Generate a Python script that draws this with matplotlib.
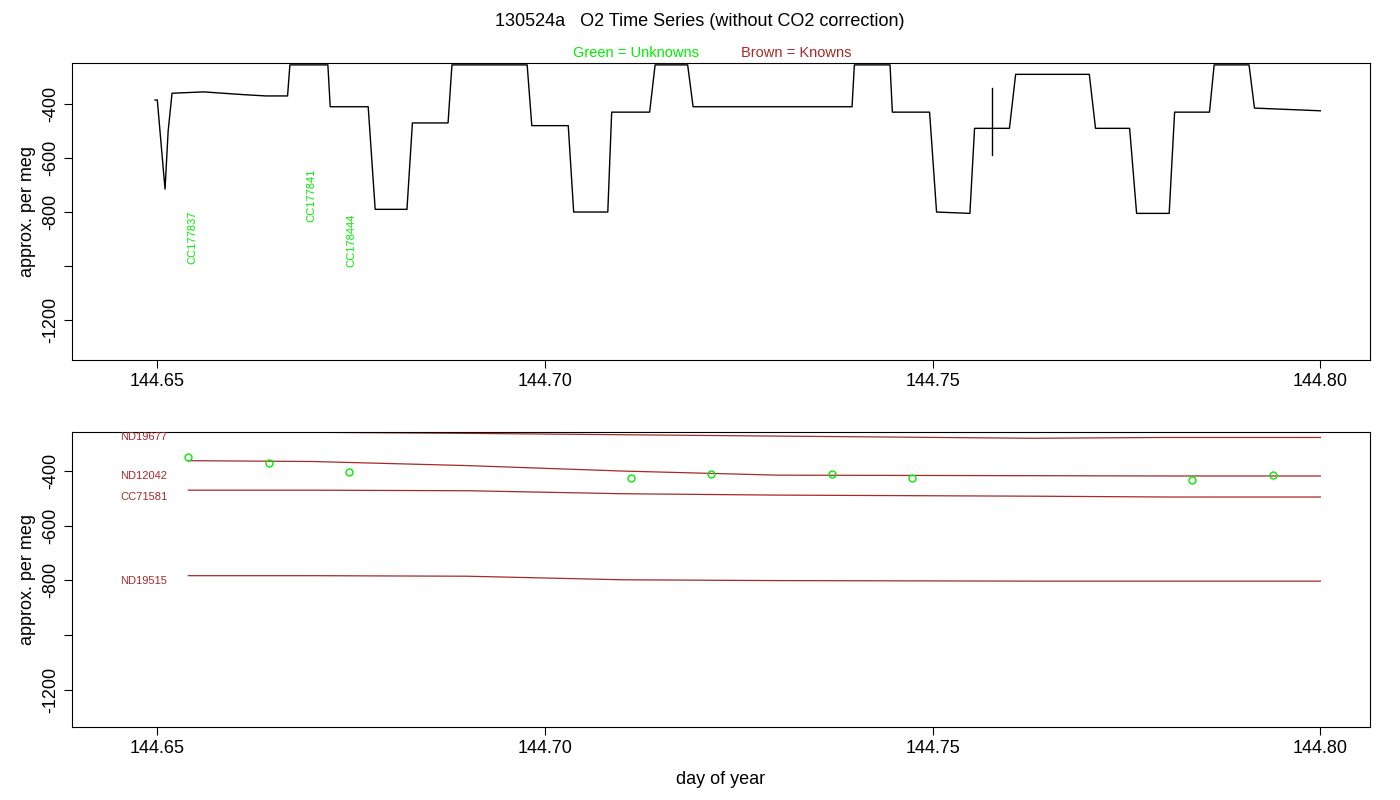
import matplotlib
matplotlib.use("Agg")
import matplotlib.pyplot as plt

plt.rcParams["font.family"] = "Liberation Sans"

# ---- data ----
# top trace: breakpoints (day of year, approx per meg)
trace_t = [144.6497, 144.6500, 144.6508, 144.6510, 144.6514, 144.6519, 144.6560, 144.6610, 144.6640, 144.6668,
           144.6671, 144.6720, 144.6723, 144.6772, 144.6781, 144.6822, 144.6829, 144.6875, 144.6880, 144.6977,
           144.6983, 144.7030, 144.7037, 144.7081, 144.7086, 144.7135, 144.7142, 144.7184, 144.7191, 144.7396,
           144.7399, 144.7445, 144.7448, 144.7496, 144.7505, 144.7548, 144.7554, 144.7599, 144.7607, 144.7702,
           144.7710, 144.7754, 144.7763, 144.7805, 144.7812, 144.7857, 144.7863, 144.7908, 144.7915, 144.8000]
trace_v = [-385, -385, -650, -715, -500, -360, -355, -365, -370, -370,
           -255, -255, -410, -410, -790, -790, -470, -470, -255, -255,
           -480, -480, -800, -800, -430, -430, -255, -255, -410, -410,
           -255, -255, -430, -430, -800, -805, -490, -490, -290, -290,
           -490, -490, -805, -805, -430, -430, -255, -255, -415, -425]
spike_t = 144.7577
spike_v = [-340, -590]

unk_names = ["CC177837", "CC177841", "CC178444"]
unk_t = [144.6545, 144.6699, 144.6750]
unk_top = [-795, -640, -805]

# bottom panel: knowns drift lines
known_names = ["ND19677", "ND12042", "CC71581", "ND19515"]
known_t = [144.654, 144.670, 144.690, 144.710, 144.730, 144.763, 144.780, 144.800]
known_v = [[-257, -258, -262, -267, -272, -280, -277, -277],
           [-362, -365, -380, -400, -415, -417, -418, -418],
           [-470, -470, -472, -483, -488, -492, -495, -495],
           [-783, -783, -785, -798, -801, -803, -803, -803]]
unk_pts_t = [144.654, 144.6644, 144.6747, 144.7111, 144.7214, 144.7370, 144.7473, 144.7835, 144.7939]
unk_pts_v = [-350, -372, -405, -427, -409, -409, -427, -431, -416]

brown = "#A52A2A"
green = "#00EE00"
xlim = (144.639, 144.8064)
xticks = [144.65, 144.70, 144.75, 144.80]
yticks = [-400, -600, -800, -1000, -1200]
ylabels = ["-400", "-600", "-800", "", "-1200"]

fig = plt.figure(figsize=(14, 8), dpi=100)
ax1 = fig.add_axes([72/1400, 440/800, 1298/1400, 297/800])
ax2 = fig.add_axes([72/1400, 73/800, 1298/1400, 295/800])

ax1.plot(trace_t, trace_v, color="black", lw=1)
ax1.plot([spike_t, spike_t], spike_v, color="black", lw=1)
for n, t, v in zip(unk_names, unk_t, unk_top):
    ax1.text(t, v, n, rotation=90, color=green, fontsize=8, ha="center", va="top")
ax1.set_ylim(-1348, -248)

for n, v in zip(known_names, known_v):
    ax2.plot(known_t, v, color=brown, lw=0.9)
    ax2.text(144.6513, v[-1], n, color=brown, fontsize=8, ha="right", va="center")
ax2.plot(unk_pts_t, unk_pts_v, "o", mfc="none", mec=green, ms=5)
ax2.set_ylim(-1337, -257)

for ax in (ax1, ax2):
    ax.set_xlim(*xlim)
    ax.set_xticks(xticks)
    ax.set_xticklabels(["%.2f" % x for x in xticks], fontsize=13)
    ax.set_yticks(yticks)
    ax.set_yticklabels(ylabels, fontsize=13, rotation=90, va="center")
    ax.set_ylabel("approx. per meg", fontsize=13)
    ax.tick_params(length=6)
    for s in ax.spines.values():
        s.set_linewidth(0.8)

ax2.set_xlabel("day of year", fontsize=13, labelpad=10)
fig.text(0.5, 1 - 22/800, "130524a   O2 Time Series (without CO2 correction)", fontsize=13, ha="center", va="center")
fig.text(636/1400, 1 - 53/800, "Green = Unknowns", color=green, fontsize=10.5, ha="center", va="center")
fig.text(796/1400, 1 - 53/800, "Brown = Knowns", color=brown, fontsize=10.5, ha="center", va="center")

fig.savefig("out.png", dpi=100)
